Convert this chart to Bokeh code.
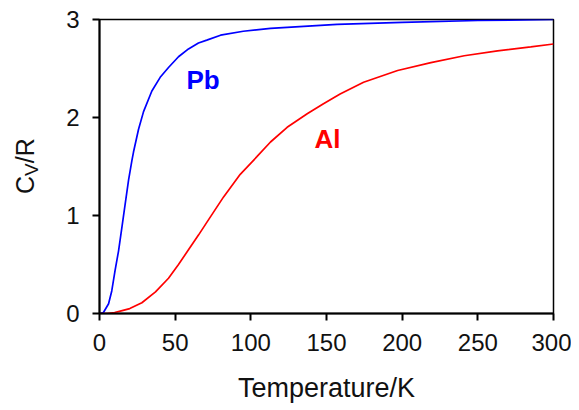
from bokeh.plotting import figure
from bokeh.models import Range1d, FixedTicker, Label, Div
from bokeh.layouts import row
from bokeh.embed import file_html
from bokeh.resources import INLINE

# Data (T in K, Cv/R)
pb_T = [0, 2.6, 6, 8.1, 10.3, 12.6, 14.8, 17, 19.2, 21.4, 22.5, 25.8, 29.1, 34.6, 40.1, 45.6, 52.2, 58.8,
        65.4, 70.9, 80, 95, 113, 135, 157, 200, 250, 300]
pb_C = [0, 0.01, 0.10, 0.23, 0.44, 0.64, 0.88, 1.12, 1.36, 1.56, 1.65, 1.88, 2.06, 2.27, 2.41, 2.51, 2.62, 2.70,
        2.76, 2.79, 2.84, 2.88, 2.91, 2.93, 2.95, 2.97, 2.99, 3.0]

al_T = [0, 5, 10, 15, 20, 28, 37, 45.6, 52.2, 58.8, 65.4, 70.9, 82, 93, 104, 113, 124, 137.5, 148, 159,
        174.5, 197, 219, 241, 263, 285, 300]
al_C = [0, 0.0, 0.01, 0.03, 0.05, 0.11, 0.22, 0.36, 0.50, 0.65, 0.80, 0.93, 1.19, 1.42, 1.6, 1.75, 1.9, 2.04,
        2.14, 2.24, 2.36, 2.48, 2.56, 2.63, 2.68, 2.72, 2.75]

x_ticks = [0, 50, 100, 150, 200, 250, 300]
y_ticks = [0, 1, 2, 3]

FONT = "Liberation Sans"
LABEL_W = 50
H = 407

p = figure(width=571 - LABEL_W, height=H, output_backend="svg", toolbar_location=None,
           x_range=Range1d(0, 300), y_range=Range1d(0, 3),
           min_border_left=99 - LABEL_W, min_border_right=18, min_border_top=19, min_border_bottom=H - 313)

p.xgrid.visible = False
p.ygrid.visible = False
p.outline_line_color = "black"
p.outline_line_width = 1.5
p.background_fill_color = "white"
p.border_fill_color = "white"

for ax in (p.xaxis[0], p.yaxis[0]):
    ax.axis_line_width = 2
    ax.axis_line_color = "black"
    ax.major_tick_line_width = 2
    ax.major_tick_line_color = "black"
    ax.major_tick_out = 7
    ax.major_tick_in = 0
    ax.minor_tick_line_color = None
    ax.major_label_text_font = FONT
    ax.major_label_text_font_size = "24px"
    ax.major_label_text_color = "#111111"

p.xaxis.ticker = FixedTicker(ticks=x_ticks)
p.yaxis.ticker = FixedTicker(ticks=y_ticks)
p.xaxis.major_label_standoff = 13
p.yaxis.major_label_standoff = 13

p.xaxis.axis_label = "Temperature/K"
p.xaxis.axis_label_text_font = FONT
p.xaxis.axis_label_text_font_size = "27px"
p.xaxis.axis_label_text_font_style = "normal"
p.xaxis.axis_label_text_color = "#111111"
p.xaxis.axis_label_standoff = 19

p.line(pb_T, pb_C, line_color="#0000FF", line_width=1.7)
p.line(al_T, al_C, line_color="#FF0000", line_width=1.7)

p.add_layout(Label(x=57.5, y=2.38, text="Pb", text_font=FONT, text_font_size="26px",
                   text_font_style="bold", text_color="#0000FF",
                   text_align="left", text_baseline="alphabetic"))
p.add_layout(Label(x=142, y=1.78, text="Al", text_font=FONT, text_font_size="26px",
                   text_font_style="bold", text_color="#FF0000",
                   text_align="left", text_baseline="alphabetic"))

# rotated y-axis title C_V/R with a subscript V
ylab_html = (
    '<div style="position:relative;width:%dpx;height:%dpx;">'
    '<div style="position:absolute;left:13px;top:194px;transform:rotate(-90deg);'
    'transform-origin:0 0;white-space:nowrap;font-family:\'Liberation Sans\';'
    'font-size:25px;line-height:1;color:#111111;">'
    'C<span style="font-size:19px;position:relative;top:4px;">V</span>/R</div></div>'
) % (LABEL_W, H)
ylab = Div(text=ylab_html, width=LABEL_W, height=H, margin=0)

layout = row(ylab, p, spacing=0)

open("out.html", "w").write(file_html(layout, INLINE))
